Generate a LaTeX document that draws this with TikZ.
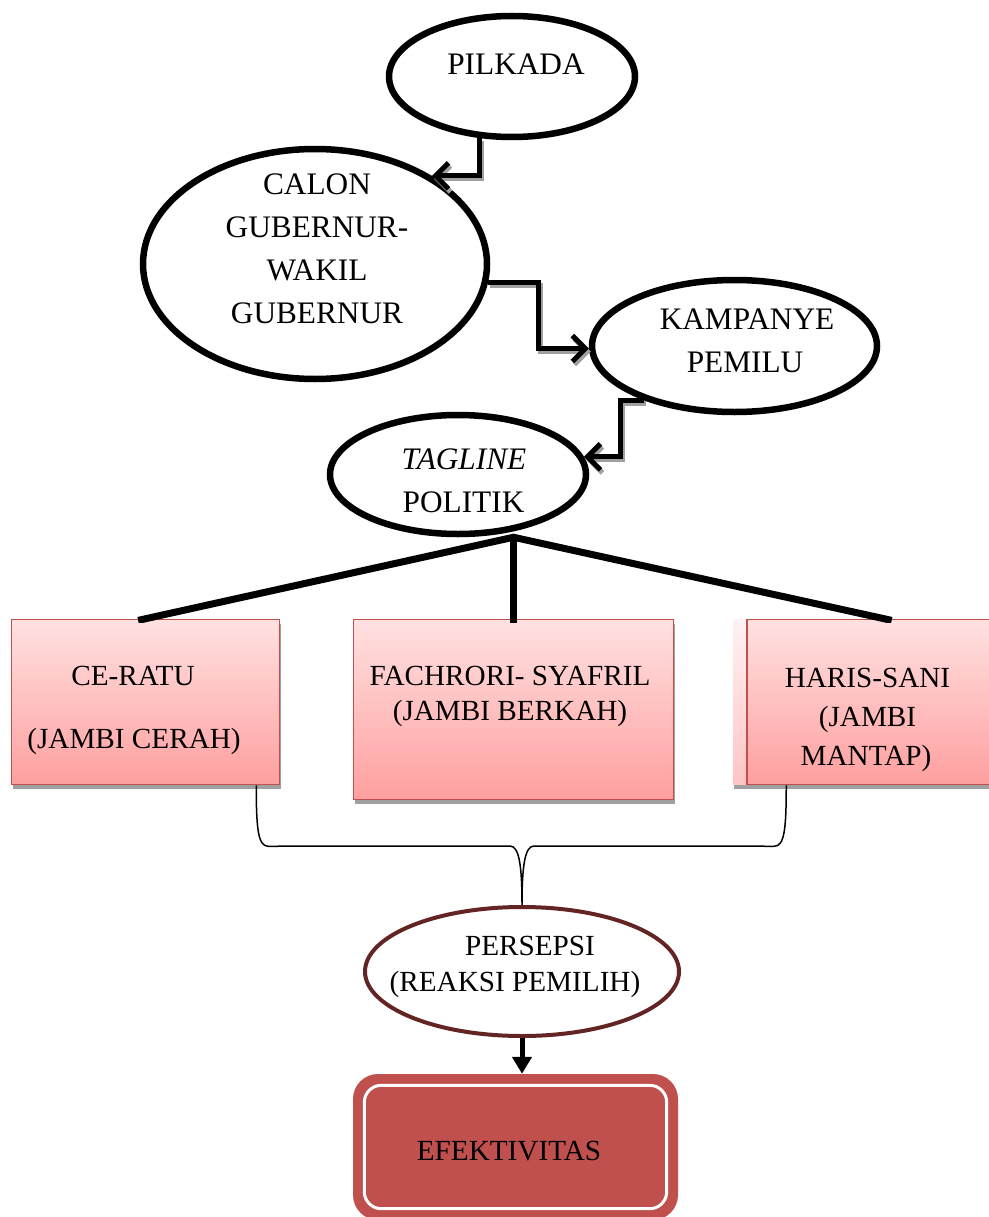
\documentclass[tikz,border=0pt]{standalone}
\usepackage{fontspec}
\setmainfont{Liberation Serif}
\usetikzlibrary{shapes.geometric,arrows.meta,calc,shadows,shadings}

\definecolor{boxred}{HTML}{C0504D}
\definecolor{boxtop}{HTML}{FFE1E1}
\definecolor{boxbot}{HTML}{FF9F9F}
\definecolor{fainttop}{HTML}{FFF2F2}
\definecolor{faintbot}{HTML}{FFC4C4}
\definecolor{persbrown}{HTML}{632523}
\definecolor{shadowgray}{HTML}{A0A0A0}

\begin{document}
\begin{tikzpicture}[x=1pt,y=-1pt,
  ell/.style={ellipse, draw=black, line width=6.5pt, inner sep=0pt, fill=white},
  lblA/.style={anchor=base, inner sep=0pt, font=\fontsize{31.3}{36}\selectfont},
  lblB/.style={anchor=base, inner sep=0pt, font=\fontsize{29.2}{34}\selectfont},
  cand/.style={rectangle, draw=boxred, line width=1.5pt, inner sep=0pt,
    top color=boxtop, bottom color=boxbot,
    drop shadow={shadow xshift=1pt, shadow yshift=-4pt, fill=shadowgray, opacity=1}},
  faint/.style={rectangle, draw=none, inner sep=0pt,
    top color=fainttop, bottom color=faintbot,
    drop shadow={shadow xshift=1pt, shadow yshift=-4pt, fill=shadowgray, opacity=1}},
  conn/.style={line width=5pt, -{Straight Barb[length=13pt,width=26pt]}},
  connshadow/.style={conn, draw=shadowgray},
  tline/.style={line width=7pt, line join=miter},
  bracel/.style={line width=1.5pt},
  efekbox/.style={rectangle, rounded corners=25pt, fill=boxred, draw=none, inner sep=0pt},
]
\useasboundingbox (0,0) rectangle (988,1217);

% ellipses
\node[ell, minimum width=246pt, minimum height=121pt] (pil) at (512,76.5) {};
\node[ell, minimum width=344pt, minimum height=230pt] (cal) at (315,264) {};
\node[ell, minimum width=285pt, minimum height=132pt] (kam) at (734.5,346) {};
\node[ell, minimum width=256pt, minimum height=119pt] (tag) at (458,474.5) {};
\node[ell, draw=persbrown, line width=4pt, minimum width=314pt, minimum height=129pt] (pers) at (522,971.5) {};

% ellipse texts
\node[lblA] (pilT) at (516,74.5) {PILKADA};
\node[lblA] (calT1) at (317,194) {CALON};
\node[lblA] (calT2) at (317,237.5) {GUBERNUR-};
\node[lblA] (calT3) at (317,280) {WAKIL};
\node[lblA] (calT4) at (317,323) {GUBERNUR};
\node[lblA] (kamT1) at (747,329.5) {KAMPANYE};
\node[lblA] (kamT2) at (745,372.5) {PEMILU};
\node[lblA] (tagT1) at (464,469.5) {\itshape TAGLINE};
\node[lblA] (tagT2) at (463.5,512.5) {POLITIK};
\node[lblB] (persT1) at (530,955) {PERSEPSI};
\node[lblB] (persT2) at (515,991) {(REAKSI PEMILIH)};

% connectors between ellipses (shadow first, then line)
\begin{scope}[transform canvas={shift={(2pt,-3pt)}}]
  \draw[connshadow] (pil.242) |- (cal.37);
  \draw[connshadow] (cal.-6) -| ($(cal.-6)!.5!(kam.181)$) |- (kam.181);
  \draw[connshadow] (kam.211) -| ($(kam.211)!.4!(tag.8)$) |- (tag.8);
\end{scope}
\draw[conn] (pil.242) |- (cal.37);
\draw[conn] (cal.-6) -| ($(cal.-6)!.5!(kam.181)$) |- (kam.181);
\draw[conn] (kam.211) -| ($(kam.211)!.4!(tag.8)$) |- (tag.8);

% candidate boxes
\node[faint, minimum width=267pt, minimum height=165pt] (harisbg) at (866.5,702) {};
\node[cand, minimum width=268pt, minimum height=165pt] (ce) at (145.5,702) {};
\node[cand, minimum width=320pt, minimum height=180pt] (fach) at (513.5,709.5) {};
\node[cand, minimum width=253pt, minimum height=165pt] (haris) at (873.5,702) {};

\node[lblB] (ceT1) at (133,685) {CE-RATU};
\node[lblB] (ceT2) at (134,748) {(JAMBI CERAH)};
\node[lblB] (faT1) at (510,685) {FACHRORI- SYAFRIL};
\node[lblB] (faT2) at (510,720) {(JAMBI BERKAH)};
\node[lblB] (haT1) at (867.5,687.5) {HARIS-SANI};
\node[lblB] (haT2) at (867.5,726) {(JAMBI};
\node[lblB] (haT3) at (866,765.5) {MANTAP)};

% tagline branches
\coordinate (apex) at (fach.north |- tag.south);
\coordinate (hartop) at ($(haris.north west)+(138,0)$);
\begin{scope}
  \clip (0,0) rectangle (988,622);
  \draw[tline] ($(apex)!1.02!(ce.north)$) -- (apex) -- ($(apex)!1.02!(hartop)$);
  \draw[tline] (apex) -- ($(fach.north)+(0,10)$);
\end{scope}

% brace
\coordinate (bl) at ($(ce.south east)+(-24,0)$);
\coordinate (br) at ($(haris.south west)+(40,0)$);
\coordinate (bt) at (pers.north);
\draw[bracel] (bl) .. controls +(0,45) and +(-10,0) .. ($(bl)+(12,61)$)
  -- ($(bt)+(-12,-59)$) .. controls +(9,0) and +(0,-40) .. (bt)
  .. controls +(0,-40) and +(-9,0) .. ($(bt)+(12,-59)$)
  -- ($(br)+(-12,61)$) .. controls +(10,0) and +(0,45) .. (br);

% efektivitas
\node[efekbox, minimum width=325pt, minimum height=146pt] (efek) at (515.5,1147) {};
\draw[white, line width=3pt, rounded corners=17pt]
  ($(efek.north west)+(11.5,11.5)$) rectangle ($(efek.south east)+(-11.5,-11.5)$);
\node[lblB] (efekT) at (509,1160) {EFEKTIVITAS};

\draw[line width=5pt, -{Triangle[length=17pt,width=19pt]}] (pers.south) -- (pers.south |- efek.north);
\end{tikzpicture}
\end{document}
